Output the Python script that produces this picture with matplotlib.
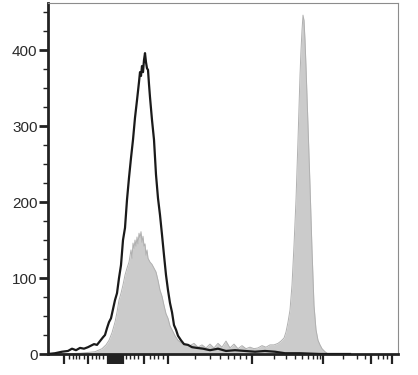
import matplotlib
matplotlib.use("Agg")
import matplotlib.pyplot as plt
import numpy as np

plt.rcParams['font.family'] = ['Liberation Sans', 'DejaVu Sans']

# unstained / isotype control (black outline)
ctrl_x = [0, 21, 42, 60, 72, 84, 96, 108, 120, 129, 138, 147, 156, 165, 171, 177,
          183, 189, 195, 201, 207, 213, 219, 225, 231, 237, 243, 249, 255, 261, 267,
          273, 276, 279, 282, 285, 288, 291, 294, 297, 300, 303, 306, 312, 318, 324,
          330, 336, 342, 348, 354, 360, 366, 372, 378, 384, 390, 399, 408, 420, 432,
          447, 465, 486, 510, 534, 561, 591, 621, 651, 681, 711, 756, 816, 906]
ctrl_y = [0, 1, 3, 4, 7, 5, 8, 7, 9, 11, 13, 12, 17, 22, 25, 34,
          42, 47, 59, 71, 80, 100, 117, 150, 166, 203, 232, 258, 282, 311, 334,
          358, 371, 366, 379, 371, 387, 396, 384, 376, 374, 355, 338, 308, 282, 236,
          205, 183, 157, 130, 104, 84, 67, 55, 38, 32, 24, 18, 13, 12, 9,
          8, 7, 5, 7, 4, 5, 4, 3, 4, 3, 1, 1, 0, 0]

# stained sample (grey filled)
stain_x = [36, 96, 141, 162, 174, 183, 192, 201, 207, 213, 219, 225, 231, 237, 243,
           249, 252, 255, 258, 261, 264, 267, 270, 273, 276, 279, 282, 285, 288, 291,
           294, 297, 300, 306, 312, 318, 324, 330, 336, 342, 348, 354, 360, 366, 372,
           381, 390, 402, 414, 426, 438, 450, 462, 474, 486, 498, 510, 522, 534, 546,
           558, 570, 582, 594, 606, 618, 630, 642, 654, 666, 678, 690, 699, 708, 714,
           720, 726, 732, 738, 744, 750, 756, 759, 762, 765, 768, 771, 774, 780, 786,
           792, 798, 804, 810, 816, 822, 831, 840]
stain_y = [0, 1, 3, 7, 12, 18, 28, 42, 55, 71, 80, 91, 104, 113, 121,
           137, 126, 146, 139, 150, 142, 154, 145, 159, 153, 161, 147, 155, 142, 145,
           130, 137, 126, 121, 118, 113, 108, 97, 84, 76, 64, 53, 47, 37, 32,
           24, 18, 14, 12, 11, 14, 9, 12, 8, 13, 8, 14, 9, 17, 8,
           13, 7, 11, 7, 9, 7, 8, 11, 9, 12, 12, 14, 17, 21, 29,
           42, 58, 91, 143, 203, 282, 367, 400, 426, 446, 439, 413, 378, 301, 222,
           137, 64, 32, 18, 12, 7, 3, 0]

y_major = [0, 100, 200, 300, 400]

# biexponential axis ticks (display channel units)
x_major = [48, 120, 180, 186, 189, 192, 195, 198, 201, 204, 207, 210, 213, 216,
           219, 222, 225, 288, 360, 612, 825, 969, 1032]
x_minor = [63, 75, 84, 93, 108, 132, 144, 153, 165, 234, 246, 258, 270, 306, 318,
           330, 345, 441, 486, 516, 540, 558, 576, 594, 678, 714, 741, 762, 780,
           795, 807, 816, 885, 927, 951, 990, 1005, 1017]

fig = plt.figure(figsize=(4.18, 3.75), dpi=100)
ax = fig.add_axes([48 / 418, 21 / 375, 350 / 418, 351 / 375])

ax.fill_between(stain_x, stain_y, 0, color='#cbcbcb', lw=0, zorder=1)
ax.plot(stain_x, stain_y, color='#b0b0b0', lw=0.7, zorder=2)
ax.plot(ctrl_x, ctrl_y, color='#1a1a1a', lw=1.6, zorder=3)

ax.set_xlim(0, 1050)
ax.set_ylim(0, 462)

ax.set_yticks(y_major)
ax.set_yticks(np.arange(0, 462, 25), minor=True)
ax.set_xticks(x_major)
ax.set_xticks(x_minor, minor=True)
ax.set_xticklabels([])

ax.tick_params(axis='y', which='major', direction='out', length=6.5, width=2,
               color='#222222', labelsize=11, labelcolor='#2a2a2a', pad=1)
ax.tick_params(axis='y', which='minor', direction='out', length=3.5, width=1,
               color='#222222')
ax.tick_params(axis='x', which='major', direction='out', length=7, width=1.6,
               color='#222222')
ax.tick_params(axis='x', which='minor', direction='out', length=3.5, width=1,
               color='#222222')

for side in ['left', 'bottom']:
    ax.spines[side].set_color('#222222')
    ax.spines[side].set_linewidth(2)
for side in ['top', 'right']:
    ax.spines[side].set_color('#8c8c8c')
    ax.spines[side].set_linewidth(0.8)

fig.savefig('out.png', dpi=100)
